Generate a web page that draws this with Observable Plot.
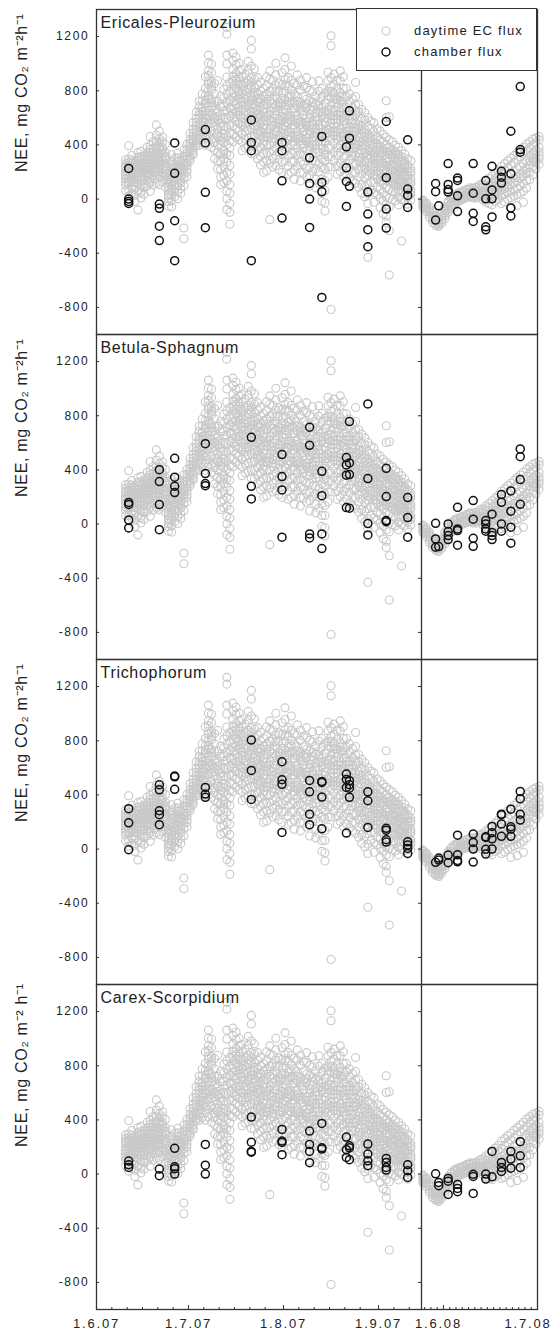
<!DOCTYPE html>
<html><head><meta charset="utf-8">
<script src="https://cdn.jsdelivr.net/npm/d3@7"></script>
<script src="https://cdn.jsdelivr.net/npm/@observablehq/plot@0.6"></script>
<style>
body{margin:0;background:#fff;}
#wrap{position:relative;width:553px;height:1334px;overflow:hidden;}
#legend{position:absolute;left:356px;top:8px;width:181px;height:63px;border:1.3px solid #333;background:#fff;box-sizing:border-box;font-family:"Liberation Sans",Arial,sans-serif;font-size:13px;letter-spacing:1.2px;color:#222;}
#legend svg{position:absolute;}
#legend span{position:absolute;white-space:nowrap;line-height:13px;}
g[aria-label="y-axis tick label"] text{letter-spacing:1.7px;}
g[aria-label="x-axis tick label"] text{letter-spacing:1.8px;}
g[aria-label="text"] text{letter-spacing:0.7px;}
</style></head>
<body>
<div id="wrap"><div id="chart"></div>
<div id="legend">
  <svg width="12" height="12" style="left:23px;top:16px"><circle cx="6" cy="6" r="4" fill="none" stroke="#c8c8c8" stroke-width="1.1"/></svg>
  <span style="left:57px;top:15px">daytime EC flux</span>
  <svg width="12" height="12" style="left:23px;top:37px"><circle cx="6" cy="6" r="4" fill="none" stroke="#111" stroke-width="1.5"/></svg>
  <span style="left:57px;top:36px">chamber flux</span>
</div></div>
<script>
const panelNames = ["Ericales-Pleurozium", "Betula-Sphagnum", "Trichophorum", "Carex-Scorpidium"];
const yLabels = ["NEE, mg CO₂ m⁻²h⁻¹", "NEE, mg CO₂ m⁻²h⁻¹", "NEE, mg CO₂ m⁻²h⁻¹", "NEE, mg CO₂ m⁻² h⁻¹"];
const yTicks = [-800, -400, 0, 400, 800, 1200];
const xTickDates = ["2007-06-01", "2007-07-01", "2007-08-01", "2007-09-01", "2008-06-01", "2008-07-01"];
const xTickLabels = ["1.6.07", "1.7.07", "1.8.07", "1.9.07", "1.6.08", "1.7.08"];
const xMinorDates = ["2007-06-06","2007-06-11","2007-06-16","2007-06-21","2007-06-26",
  "2007-07-06","2007-07-11","2007-07-16","2007-07-21","2007-07-26",
  "2007-08-06","2007-08-11","2007-08-16","2007-08-21","2007-08-26",
  "2007-09-06","2007-09-11",
  "2008-05-26","2008-05-28","2008-05-30","2008-06-03","2008-06-05","2008-06-07","2008-06-09",
  "2008-06-11","2008-06-13","2008-06-15","2008-06-17","2008-06-19","2008-06-21","2008-06-23",
  "2008-06-25","2008-06-27","2008-06-29"];
const seasonBounds = ["2007-06-01", "2007-09-15", "2008-05-25", "2008-07-01"];

// daytime EC flux, one list per day starting 2007-06-10
const ec2007Start = "2007-06-10";
const ec2007 = [
  [291,262,241,228,205,188,171,148,126,104,61],
  [394,296,271,252,237,213,196,184,152,133,116,64,22],
  [322,287,266,249,228,214,193,171,149,128,85,41],
  [276,251,233,217,192,171,158,121,96,72,28,-18],
  [343,306,281,263,251,226,214,191,164,141,113,57,-80],
  [352,314,292,268,247,229,203,186,161,133,97,46,8],
  [318,297,276,253,234,217,199,166,147,112,83,35],
  [383,341,319,302,274,256,238,214,192,177,138,96],
  [462,398,366,342,318,289,266,243,217,188,164,124,58],
  [424,377,348,326,301,271,253,232,197,176,151,102],
  [548,472,423,396,377,342,318,297,263,241,212,172,118],
  [502,446,413,384,367,331,309,286,254,229,203,163,107],
  [458,423,381,361,338,301,281,258,223,196,173,128],
  [403,342,317,298,263,238,219,184,161,139,87],
  [182,143,118,84,63,41,27,8,-18,-52],
  [327,283,254,226,188,162,128,97,78,54,28,-12,-58],
  [302,261,238,219,181,156,138,103,62,17],
  [338,304,278,252,227,201,174,144,97,52,3],
  [283,236,218,199,163,137,118,77,42],
  [362,318,287,262,243,223,186,153,98,-214,-293],
  [404,368,339,318,297,266,243,221,198,164],
  [483,441,412,391,372,352,318,301,283],
  [563,518,487,462,443,423,386,362,341,327],
  [644,597,567,538,514,492,457,433,412,396],
  [722,684,641,618,598,558,527,503,477,442,398],
  [776,724,678,648,624,597,567,538,512,474,418],
  [903,817,763,731,702,654,622,597,558,527,493,452,397],
  [1063,1004,948,912,872,846,803,766,737,688,652,617,553,476,423],
  [998,934,868,834,808,737,711,683,624,587,557,503,437,382],
  [853,777,723,688,653,604,571,537,488,452,418,363,297],
  [876,723,648,612,583,521,488,463,398,343,277,223],
  [758,683,597,561,533,462,431,404,337,283,217,163,108],
  [812,748,683,651,603,537,484,452,418,363,331,297,243,177,123],
  [1268,1218,1063,998,902,837,776,712,658,593,531,468,403,337,273,197,133,57,3,-78],
  [862,797,733,672,611,548,488,433,377,323,248,183,107,43,-33,-98,-186],
  [1078,1023,957,908,868,837,783,751,717,668,631,597,543,477,423],
  [1047,993,927,884,852,812,763,729,697,643,608,573,523,457],
  [1003,947,903,871,843,797,768,738,677,648,619,557,503,437],
  [957,903,837,806,778,717,692,663,602,568,543,477,423,357],
  [923,857,803,771,737,688,651,617,563,532,497,443,377],
  [1017,953,877,842,813,752,718,693,627,598,569,507,453,387],
  [1172,1108,983,897,862,828,757,731,703,642,612,583,517,463,397,337],
  [963,887,823,788,757,703,672,637,583,548,517,463,397,333],
  [897,843,777,743,723,657,628,603,537,508,483,417,363,297],
  [863,797,743,712,677,623,588,557,503,468,437,383,317,253],
  [817,763,697,668,643,577,548,523,457,428,403,337,273,197],
  [903,837,773,737,697,643,611,577,523,488,457,403,337,283,207],
  [947,883,797,758,723,647,618,583,517,488,463,397,343,267,-152],
  [877,813,737,708,673,597,573,543,477,448,423,357,303,237],
  [1003,917,843,797,757,693,652,617,563,527,497,443,377,323,247],
  [857,793,717,683,653,587,558,533,467,438,413,347,293,217],
  [933,847,783,743,707,643,611,577,523,491,457,403,337,273,197],
  [1043,957,883,838,797,733,693,657,603,568,537,483,417,353,277],
  [897,833,757,722,693,617,588,563,497,468,443,377,323,247,183],
  [983,877,803,762,717,653,612,577,523,492,457,403,337,273,197],
  [853,777,713,672,637,583,548,517,463,428,397,343,277,213,147],
  [917,843,757,722,693,617,588,563,497,468,443,377,323,247],
  [877,803,717,683,653,577,548,523,457,428,403,337,273,197,133],
  [833,757,693,652,617,563,528,497,443,408,377,323,257,193],
  [897,823,737,703,673,597,568,543,477,448,423,357,303,227,163],
  [803,727,663,628,597,543,508,477,423,388,357,303,237,173,97],
  [867,793,717,683,653,577,548,523,457,428,403,337,283,207],
  [757,703,637,608,583,517,488,463,397,368,343,277,223,147,83],
  [873,797,723,688,647,583,548,517,463,428,397,343,267,203,117],
  [817,753,677,643,613,547,518,493,427,398,373,297,233,147,63,-17],
  [783,707,643,602,567,503,468,427,363,328,287,223,137,63,-27,-88],
  [937,873,797,762,733,657,628,593,517,488,453,377,313,237,163],
  [1206,1132,897,833,793,757,693,662,617,563,528,497,443,377,313,237,-815],
  [923,847,783,743,707,653,618,587,533,498,467,413,347,283],
  [877,813,737,708,683,617,588,563,497,468,443,377,323,247,183],
  [947,873,787,752,723,647,618,583,517,488,463,397,343,267,203],
  [903,817,753,718,677,613,578,547,493,458,427,373,307,243,167],
  [817,753,677,648,623,557,528,503,437,408,383,317,263,187],
  [777,713,647,618,593,527,498,473,407,378,353,287,233,157],
  [743,677,623,588,557,503,468,437,383,348,317,263,197,133],
  [861,757,693,652,617,563,528,497,443,408,377,323,257,193,117],
  [697,643,577,548,523,457,428,403,337,308,283,217,163,87],
  [663,597,543,508,477,423,388,357,303,268,237,183,107,43],
  [637,583,517,488,463,397,368,343,277,248,223,157,93,17],
  [603,537,483,448,417,363,328,297,243,208,177,113,37,-33,-430],
  [577,523,457,428,403,347,323,303,247,218,193,127,63],
  [563,497,443,413,387,343,312,287,243,208,177,123,47,-23],
  [517,463,407,383,363,307,283,263,207,178,153,87,33],
  [503,437,393,362,337,293,262,237,193,158,127,73,7,-63],
  [477,423,367,343,323,267,243,223,167,138,113,47,-13,-108],
  [726,603,457,403,373,347,303,272,247,203,168,137,83,17,-43,-127,-172],
  [608,437,383,352,327,283,251,227,183,152,127,73,7,-57,-234,-561],
  [423,357,334,313,257,236,213,157,132,113,57,-3],
  [397,353,324,297,253,224,197,153,122,97,53,-13],
  [383,327,303,283,227,211,193,147,128,113,57,13,-43],
  [357,313,286,257,223,198,177,143,118,97,53,-3,-310],
  [333,277,262,243,197,181,163,117,98,83,37,-13],
  [297,253,232,207,173,152,127,93,72,47,13,-37],
  [283,227,208,193,147,128,113,67,48,33,-7]
];
// daytime EC flux, one list per day starting 2008-05-25
const ec2008Start = "2008-05-25";
const ec2008 = [
  [-18,-42,-57,-31,-8,-64],
  [-47,-73,-38,-92,-61,-27],
  [-83,-112,-58,-134,-93,-71],
  [-118,-152,-97,-173,-131,-142],
  [-148,-183,-127,-163,-194,-118],
  [-168,-192,-147,-181,-138,-203],
  [-132,-163,-108,-152,-121,-178],
  [-88,-123,-68,-107,-57,-143],
  [-52,-83,-28,-71,-17,-98],
  [-21,-53,3,-38,12,-62],
  [2,-31,22,-18,33,-43],
  [12,-22,31,-3,42,-12],
  [23,-8,41,11,52,-2],
  [32,3,53,18,61,8],
  [42,12,63,27,72,22],
  [51,18,72,38,83,28],
  [38,8,62,27,81,17],
  [48,22,68,37,88,7],
  [58,27,82,47,103,18],
  [52,17,92,38,112,27,-3],
  [68,28,102,48,133,8,-22],
  [78,38,122,57,152,17,-33],
  [92,37,128,62,172,18,-42],
  [103,48,153,78,192,27,-18],
  [118,58,172,88,213,37,-3],
  [132,67,188,102,243,28,-33],
  [148,78,212,112,262,38,-22],
  [172,88,232,128,283,47,-2],
  [178,102,253,138,302,58,12,-62],
  [203,118,268,153,323,67,22],
  [222,128,292,168,343,78,33,-48],
  [238,152,312,188,363,98,42],
  [262,168,333,208,383,117,-23,58],
  [283,188,352,227,406,138,82],
  [318,252,382,278,423,198,143],
  [338,283,403,302,442,243,178],
  [362,298,418,328,452,268,223],
  [382,322,437,348,463,297,258]
];

// chamber flux measurement dates and values per plant community
const chamberDates = ["2007-06-11","2007-06-21","2007-06-26","2007-07-06","2007-07-21","2007-07-31",
  "2007-08-09","2007-08-13","2007-08-21","2007-08-22","2007-08-28","2007-09-03","2007-09-10",
  "2008-05-29","2008-05-30","2008-06-02","2008-06-05","2008-06-10","2008-06-14","2008-06-16",
  "2008-06-19","2008-06-22","2008-06-25"];
const chamberEricales = [
  [226,0,-17,-32],[-37,-68,-200,-306],[415,190,-160,-455],[513,415,50,-211],[584,418,357,-455],
  [418,357,135,-140],[305,116,0,-209],[463,123,54,-726],[386,231,130,-54],[652,450,94],
  [52,-111,-226,-352],[573,158,-74,-214],[438,74,27,-62],
  [115,55,-155],[-50],[262,108,70,52],[155,138,24,-92],[262,43,-105,-165],[137,2,-205,-227],
  [242,68,2,-132],[205,161,118],[501,188,-65,-125],[831,366,346]
];
const chamberBetula = [
  [160,145,31,-28],[402,314,144,-41],[486,346,279,233],[594,373,299,284],[641,279,186],
  [513,351,252,-97],[715,582,-73,-102],[390,210,-73,-181],[491,437,361,122],[757,452,366,117],
  [887,336,4,-80],[412,203,26,18],[196,48,-97],
  [6,-110,-171],[-166],[1,-55,-85,-114],[124,-36,-48,-156],[174,36,-105,-164],[26,1,-36,-53],
  [73,-62,-85,-114],[218,161,1,-53],[245,95,-23,-141],[555,498,329,146]
];
const chamberTrichophorum = [
  [298,194,-5],[475,438,283,254,180],[539,534,441],[455,406,382],[805,581,367],
  [645,512,478,123],[507,423,258,180],[500,492,384,150],[554,514,455,118],[505,475,450,382],
  [423,357,160],[153,140,69,52],[54,30,5,-32],
  [-98],[-66,-81],[-44,-101],[103,-42,-84,-94],[111,49,0,-96],[91,86,-2,-37],
  [167,121,76,0],[258,254,185,94],[295,165,148,94],[426,372,258,214]
];
const chamberCarex = [
  [96,69,49],[37,-12],[190,54,39,0],[219,66,0],[421,236,167,162],
  [330,244,234,143],[318,219,167,84],[374,194,185],[273,180,123],[209,194,106],
  [222,148,98,62],[116,86,49,30],[69,25,-25],
  [2],[-62,-86],[-32,-52,-150],[-76,-106,-130],[-2,-17,-143],[0,-37],
  [167,-20],[86,49,20],[167,111,44],[239,135,49]
];
const chamberByPanel = [chamberEricales, chamberBetula, chamberTrichophorum, chamberCarex];

// ---- build tables ----
const noon = s => new Date(s + "T12:00:00Z");
const day0 = s => new Date(s + "T00:00:00Z");
const ecRows = [];
[[ec2007Start, ec2007], [ec2008Start, ec2008]].forEach(([start, days]) => {
  const t0 = noon(start);
  days.forEach((vals, i) => {
    const date = d3.utcDay.offset(t0, i);
    vals.forEach(v => ecRows.push({date, nee: v}));
  });
});
const chamberRows = [];
chamberByPanel.forEach((lists, p) => {
  lists.forEach((vals, i) => vals.forEach(v => chamberRows.push({panel: panelNames[p], date: noon(chamberDates[i]), nee: v})));
});
const panels = panelNames.map((name, i) => ({name, ylabel: yLabels[i]}));
const majors = xTickDates.map(day0);
const minors = xMinorDates.map(day0);
const labelOf = new Map(majors.map((d, i) => [+d, xTickLabels[i]]));
const bounds = seasonBounds.map(day0);
const leftTickEnd = d3.utcDay.offset(bounds[0], 1);
const breakTickStart = d3.utcDay.offset(bounds[1], -1);

const chart = Plot.plot({
  width: 553, height: 1334,
  marginLeft: 96, marginRight: 16, marginTop: 9, marginBottom: 25,
  style: {fontFamily: '"Liberation Sans", Arial, sans-serif', fontSize: "12px", color: "#222", background: "#fff"},
  x: {type: "utc", domain: bounds, range: [96, 421, 421, 537], label: null},
  y: {domain: [-1000, 1400], label: null},
  fy: {domain: panelNames, axis: null, padding: 0, label: null},
  marks: [
    Plot.dot(ecRows, {x: "date", y: "nee", r: 4, stroke: "#c8c8c8", strokeWidth: 1.1}),
    Plot.dot(chamberRows, {x: "date", y: "nee", fy: "panel", r: 4, stroke: "#111", strokeWidth: 1.5}),
    Plot.frame({stroke: "#333", strokeWidth: 1.3}),
    Plot.ruleX([bounds[1]], {stroke: "#333", strokeWidth: 1.3}),
    Plot.ruleY(yTicks, {y: d => d, x1: () => bounds[0], x2: () => leftTickEnd, stroke: "#333"}),
    Plot.ruleY(yTicks, {y: d => d, x1: () => breakTickStart, x2: () => bounds[1], stroke: "#333"}),
    Plot.axisY(yTicks, {tickSize: 0, tickPadding: 7, fontSize: 12, label: null, tickFormat: d => String(d)}),
    Plot.axisX(majors, {tickSize: -4, tickFormat: () => "", label: null, stroke: "#333"}),
    Plot.axisX(minors, {tickSize: -2, tickFormat: () => "", label: null, stroke: "#333"}),
    Plot.axisX(majors.slice(0, 4), {tickSize: 0, tickPadding: 9, fontSize: 13, label: null, tickFormat: d => labelOf.get(+d)}),
    Plot.axisX(majors.slice(4, 5), {tickSize: 0, tickPadding: 9, fontSize: 13, label: null, dx: -5, tickFormat: d => labelOf.get(+d)}),
    Plot.axisX(majors.slice(5), {tickSize: 0, tickPadding: 9, fontSize: 13, label: null, textAnchor: "end", dx: 14, tickFormat: d => labelOf.get(+d)}),
    Plot.text(panels, {fy: "name", text: "name", frameAnchor: "top-left", dx: 4, dy: 7, lineAnchor: "top", textAnchor: "start", fontSize: 16, fill: "#222"}),
    Plot.text(panels, {fy: "name", text: "ylabel", frameAnchor: "left", dx: -75, rotate: -90, fontSize: 16, fill: "#222"})
  ]
});
document.getElementById("chart").appendChild(chart);
</script>
</body></html>
